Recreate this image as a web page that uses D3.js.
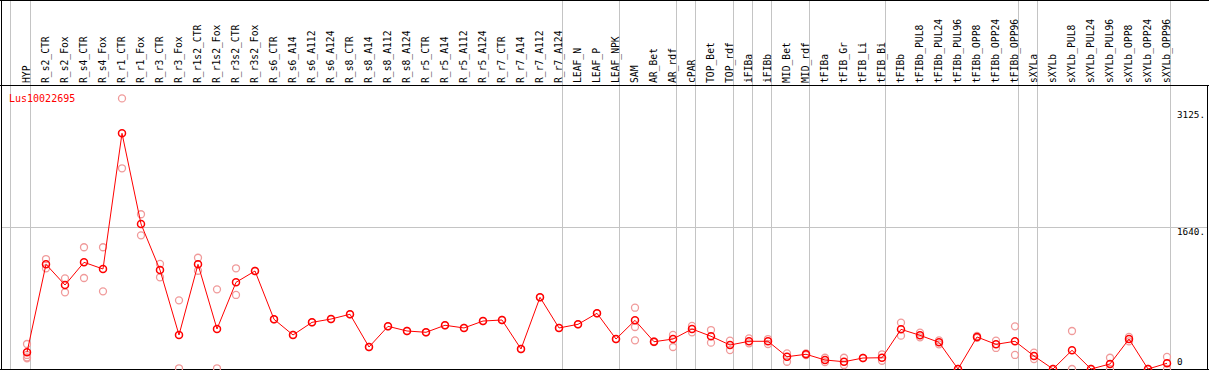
<!DOCTYPE html>
<html><head><meta charset="utf-8">
<script src="https://cdn.jsdelivr.net/npm/d3@7/dist/d3.min.js"></script>
<style>body{margin:0;background:#fff;}svg{display:block;}</style>
</head><body>
<script>
const geneName = "Lus10022695";
const categories = ["HYP","R_s2_CTR","R_s2_Fox","R_s4_CTR","R_s4_Fox","R_r1_CTR","R_r1_Fox","R_r3_CTR","R_r3_Fox","R_r1s2_CTR","R_r1s2_Fox","R_r3s2_CTR","R_r3s2_Fox","R_s6_CTR","R_s6_A14","R_s6_A112","R_s6_A124","R_s8_CTR","R_s8_A14","R_s8_A112","R_s8_A124","R_r5_CTR","R_r5_A14","R_r5_A112","R_r5_A124","R_r7_CTR","R_r7_A14","R_r7_A112","R_r7_A124","LEAF_N","LEAF_P","LEAF_NPK","SAM","AR_Bet","AR_rdf","cPAR","TOP_Bet","TOP_rdf","iFIBa","iFIBb","MID_Bet","MID_rdf","tFIBa","tFIB_Gr","tFIB_Li","tFIB_Bi","tFIBb","tFIBb_PUL8","tFIBb_PUL24","tFIBb_PUL96","tFIBb_OPP8","tFIBb_OPP24","tFIBb_OPP96","sXYLa","sXYLb","sXYLb_PUL8","sXYLb_PUL24","sXYLb_PUL96","sXYLb_OPP8","sXYLb_OPP24","sXYLb_OPP96"];
const means = [193,1209,970,1232,1155,2722,1675,1143,393,1209,462,1001,1132,574,393,539,577,632,254,493,439,424,505,474,554,566,231,828,474,516,643,346,562,315,346,462,378,277,320,320,142,170,104,84,127,130,458,389,308,0,370,285,320,150,0,216,0,58,346,0,66];
const replicates = [[289,162,135,124],[1270,1163],[1047,886],[1406,1051],[1406,897],[3125,2318],[1787,1544],[1213,1059],[793,8],[1285,1135],[920,8],[1163,855],[1132],[574],[393],[539],[577],[632],[254],[493],[439],[424],[505],[474],[554],[566],[231],[828],[474],[516],[643],[346],[708,485,331],[320,310],[393,254],[497,424],[450,304],[327,219],[354,297],[346,289],[181,84],[180,160],[130,80],[130,46],[127],[170,95],[535,385],[419,366],[331,285],[0],[381,360],[327,243],[493,162],[188,115],[0],[439,0],[0],[130,0],[370,320],[0],[139,0]];
const groupEndsAfter = [-1,0,28,31,34,35,37,38,39,41,45,52,53,60];
const yMaxDomain = 3280;
const yTickValues = [3125,1640,0];
const yTickLabels = ["3125.","1640.","0"];

(function () {
const W = 1209, H = 370;
const plotTop = 85, plotBottom = 369;
const svg = d3.select("body").append("svg").attr("width", W).attr("height", H);

const x = d3.scalePoint().domain(categories).range([27, 27 + 19 * (categories.length - 1)]);
const y = d3.scaleLinear().domain([0, yMaxDomain]).range([plotBottom, plotTop]);
const step = x.step();

const sepX = d => (d < 0 ? x(categories[0]) - step - 1 : x(categories[d])) + 3.5;
svg.append("g").selectAll("line").data(groupEndsAfter).join("line")
  .attr("x1", sepX).attr("x2", sepX)
  .attr("y1", 0).attr("y2", plotBottom)
  .attr("stroke", "#c4c4c4").attr("stroke-width", 1);

const midY = Math.round(y(yMaxDomain / 2)) + 0.5;
svg.append("line").attr("x1", 1).attr("x2", 1208)
  .attr("y1", midY).attr("y2", midY).attr("stroke", "#c4c4c4");

svg.append("line").attr("x1",0).attr("x2",W).attr("y1",0.5).attr("y2",0.5).attr("stroke","#000");
svg.append("line").attr("x1",0).attr("x2",W).attr("y1",plotTop+0.5).attr("y2",plotTop+0.5).attr("stroke","#000");
svg.append("line").attr("x1",0).attr("x2",W).attr("y1",plotBottom+0.5).attr("y2",plotBottom+0.5).attr("stroke","#000");
svg.append("line").attr("x1",1.5).attr("x2",1.5).attr("y1",0).attr("y2",H).attr("stroke","#000");
svg.append("line").attr("x1",1207.5).attr("x2",1207.5).attr("y1",plotTop).attr("y2",H).attr("stroke","#000");

svg.append("g").selectAll("text").data(categories).join("text")
  .attr("transform", d => `translate(${x(d) + 2.5},83) rotate(-90)`)
  .attr("font-family", "DejaVu Sans Mono, monospace").attr("font-size", 9.7)
  .attr("fill", "#000").text(d => d);

const labelOffsets = [20, 8, -4];
svg.append("g").selectAll("text").data(yTickValues).join("text")
  .attr("x", 1177).attr("y", (d, i) => y(d) + labelOffsets[i])
  .attr("font-family", "DejaVu Sans Mono, monospace").attr("font-size", 9.3)
  .attr("fill", "#000").text((d, i) => yTickLabels[i]);

svg.append("text").attr("x", 9).attr("y", 102)
  .attr("font-family", "DejaVu Sans Mono, monospace").attr("font-size", 10)
  .attr("fill", "#ff0000").text(geneName);

const plot = svg.append("g");
const repPts = [];
replicates.forEach((arr, i) => arr.forEach(v => repPts.push({c: categories[i], v})));
plot.selectAll("circle.rep").data(repPts).join("circle").attr("class","rep")
  .attr("cx", d => x(d.c)).attr("cy", d => y(d.v)).attr("r", 3.5)
  .attr("fill", "none").attr("stroke", "#f09a9a").attr("stroke-width", 1.3);

const line = d3.line().x((d, i) => x(categories[i])).y(d => y(d));
plot.append("path").datum(means).attr("d", line)
  .attr("fill", "none").attr("stroke", "#ff0000").attr("stroke-width", 1);

plot.selectAll("circle.mean").data(means).join("circle").attr("class","mean")
  .attr("cx", (d, i) => x(categories[i])).attr("cy", d => y(d)).attr("r", 3.5)
  .attr("fill", "none").attr("stroke", "#ff0000").attr("stroke-width", 1.5);
})();
</script>
</body></html>
